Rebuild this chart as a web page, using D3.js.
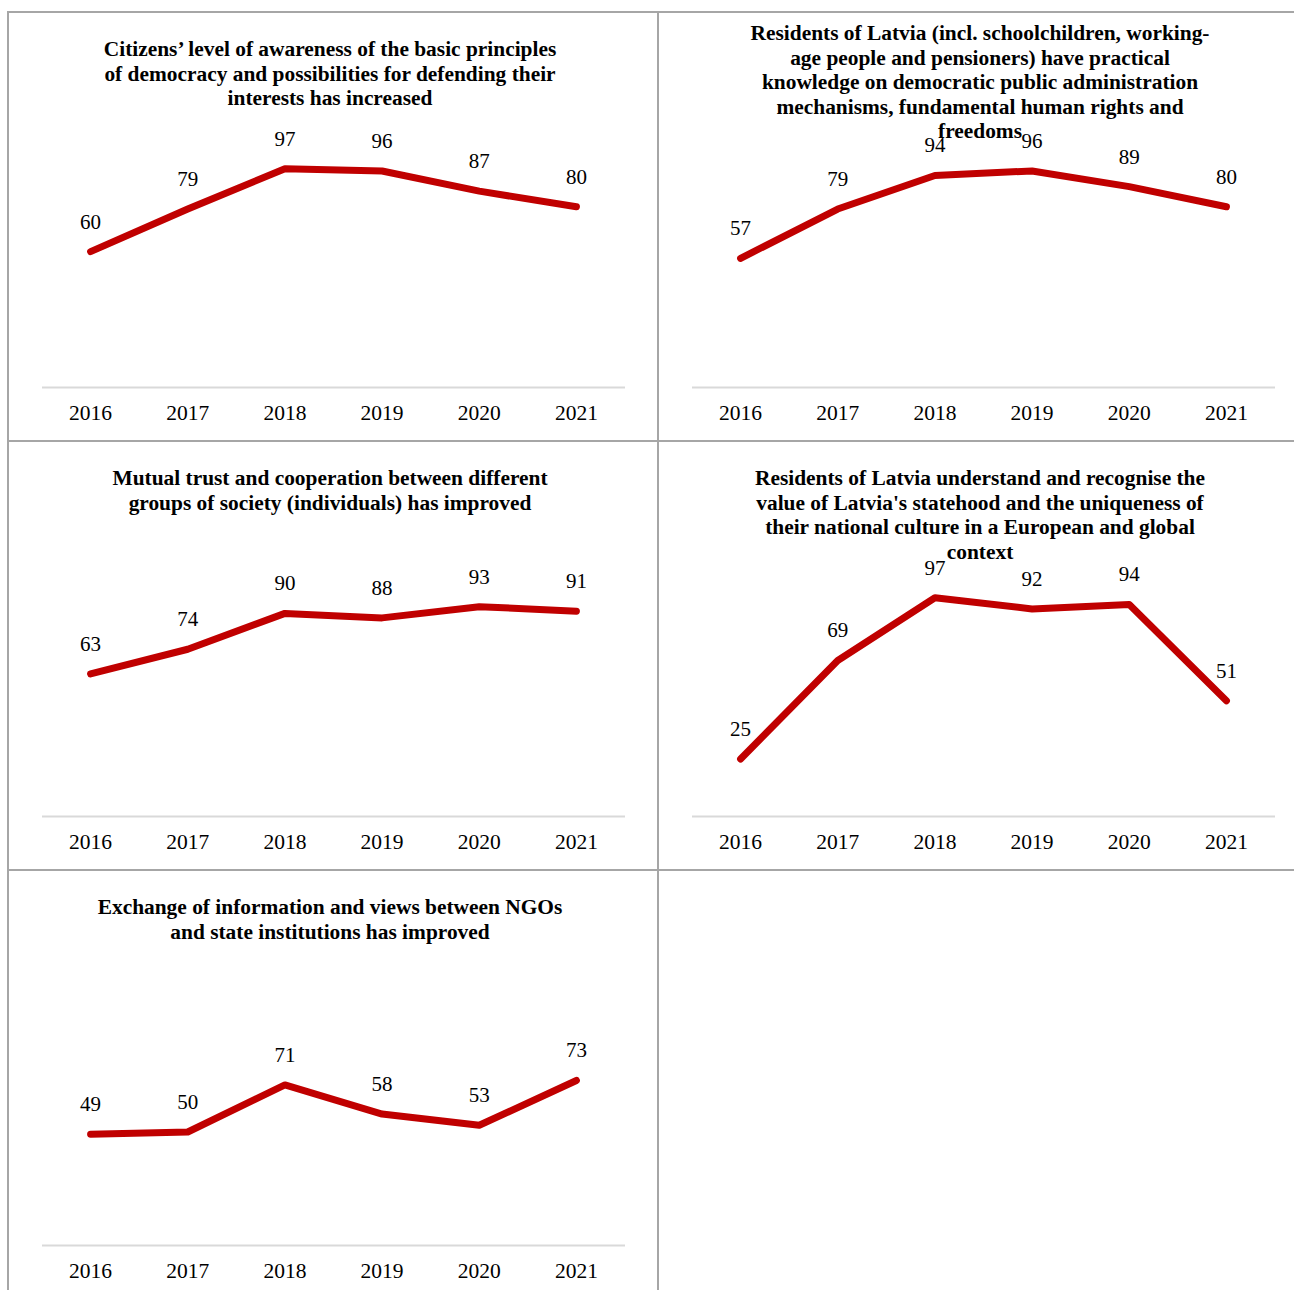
<!DOCTYPE html>
<html>
<head>
<meta charset="utf-8">
<script src="https://cdn.jsdelivr.net/npm/d3@7"></script>
<style>
  html, body { margin: 0; padding: 0; background: #ffffff; }
  svg { display: block; }
  text { font-family: "Liberation Serif", "Times New Roman", serif; fill: #000; }
</style>
</head>
<body>
<svg id="chart" width="1294" height="1290"></svg>
<script>
const years = ["2016", "2017", "2018", "2019", "2020", "2021"];

const title1 = ["Citizens\u2019 level of awareness of the basic principles",
                "of democracy and possibilities for defending their",
                "interests has increased"];
const values1 = [60, 79, 97, 96, 87, 80];

const title2 = ["Residents of Latvia (incl. schoolchildren, working-",
                "age people and pensioners) have practical",
                "knowledge on democratic public administration",
                "mechanisms, fundamental human rights and",
                "freedoms"];
const values2 = [57, 79, 94, 96, 89, 80];

const title3 = ["Mutual trust and cooperation between different",
                "groups of society (individuals) has improved"];
const values3 = [63, 74, 90, 88, 93, 91];

const title4 = ["Residents of Latvia understand and recognise the",
                "value of Latvia's statehood and the uniqueness of",
                "their national culture in a European and global",
                "context"];
const values4 = [25, 69, 97, 92, 94, 51];

const title5 = ["Exchange of information and views between NGOs",
                "and state institutions has improved"];
const values5 = [49, 50, 71, 58, 53, 73];

const panels = [
  { title: title1, values: values1 },
  { title: title2, values: values2 },
  { title: title3, values: values3 },
  { title: title4, values: values4 },
  { title: title5, values: values5 }
];

const svg = d3.select("#chart");
const gridX = [8, 658, 1308];
const gridY = [12, 441, 870, 1299];
const borderColor = "#a6a6a6";

// grid lines
const gridG = svg.append("g");
gridY.slice(0, 3).forEach(y => {
  gridG.append("line").attr("x1", 7).attr("x2", 1294).attr("y1", y).attr("y2", y)
    .attr("stroke", borderColor).attr("stroke-width", 2);
});
gridX.slice(0, 2).forEach(x => {
  gridG.append("line").attr("x1", x).attr("x2", x).attr("y1", 11).attr("y2", 1290)
    .attr("stroke", borderColor).attr("stroke-width", 2);
});

const x = d3.scaleBand().domain(years).range([34, 617]).padding(0);
const y = d3.scaleLinear().domain([0, 100]).range([374, 150]);
const baseline = 375.5;

panels.forEach((p, i) => {
  const col = i % 2, row = Math.floor(i / 2);
  const g = svg.append("g").attr("transform", `translate(${gridX[col]},${gridY[row]})`);

  // title
  const n = p.title.length;
  const lh = 24.5;
  const firstCenter = Math.min(37, 119 - (n - 1) * lh);
  g.append("text")
    .attr("text-anchor", "middle")
    .attr("font-size", 21.4)
    .attr("font-weight", "bold")
    .selectAll("tspan").data(p.title).join("tspan")
    .attr("x", 322)
    .attr("y", (d, k) => firstCenter + k * lh + 7)
    .text(d => d);

  // axis baseline
  g.append("line").attr("x1", x.range()[0]).attr("x2", x.range()[1])
    .attr("y1", baseline).attr("y2", baseline)
    .attr("stroke", "#d9d9d9").attr("stroke-width", 2);

  // tick labels
  const ax = d3.axisBottom(x).tickSize(0).tickPadding(0);
  const axG = g.append("g").attr("transform", `translate(0,${baseline})`).call(ax);
  axG.select(".domain").remove();
  axG.selectAll("text")
    .attr("font-size", 21.5)
    .attr("fill", "#000")
    .attr("dy", null)
    .attr("y", 32.5);

  // line
  const data = years.map((yr, k) => ({ yr, v: p.values[k] }));
  const lineGen = d3.line().x(d => x(d.yr) + x.bandwidth() / 2).y(d => y(d.v));
  g.append("path").datum(data)
    .attr("d", lineGen)
    .attr("fill", "none")
    .attr("stroke", "#c00000")
    .attr("stroke-width", 7)
    .attr("stroke-linecap", "round")
    .attr("stroke-linejoin", "round");

  // data labels
  g.selectAll("text.lbl").data(data).join("text")
    .attr("class", "lbl")
    .attr("text-anchor", "middle")
    .attr("font-size", 21)
    .attr("x", d => x(d.yr) + x.bandwidth() / 2)
    .attr("y", d => y(d.v) - 23)
    .text(d => d.v);
});
</script>
</body>
</html>
